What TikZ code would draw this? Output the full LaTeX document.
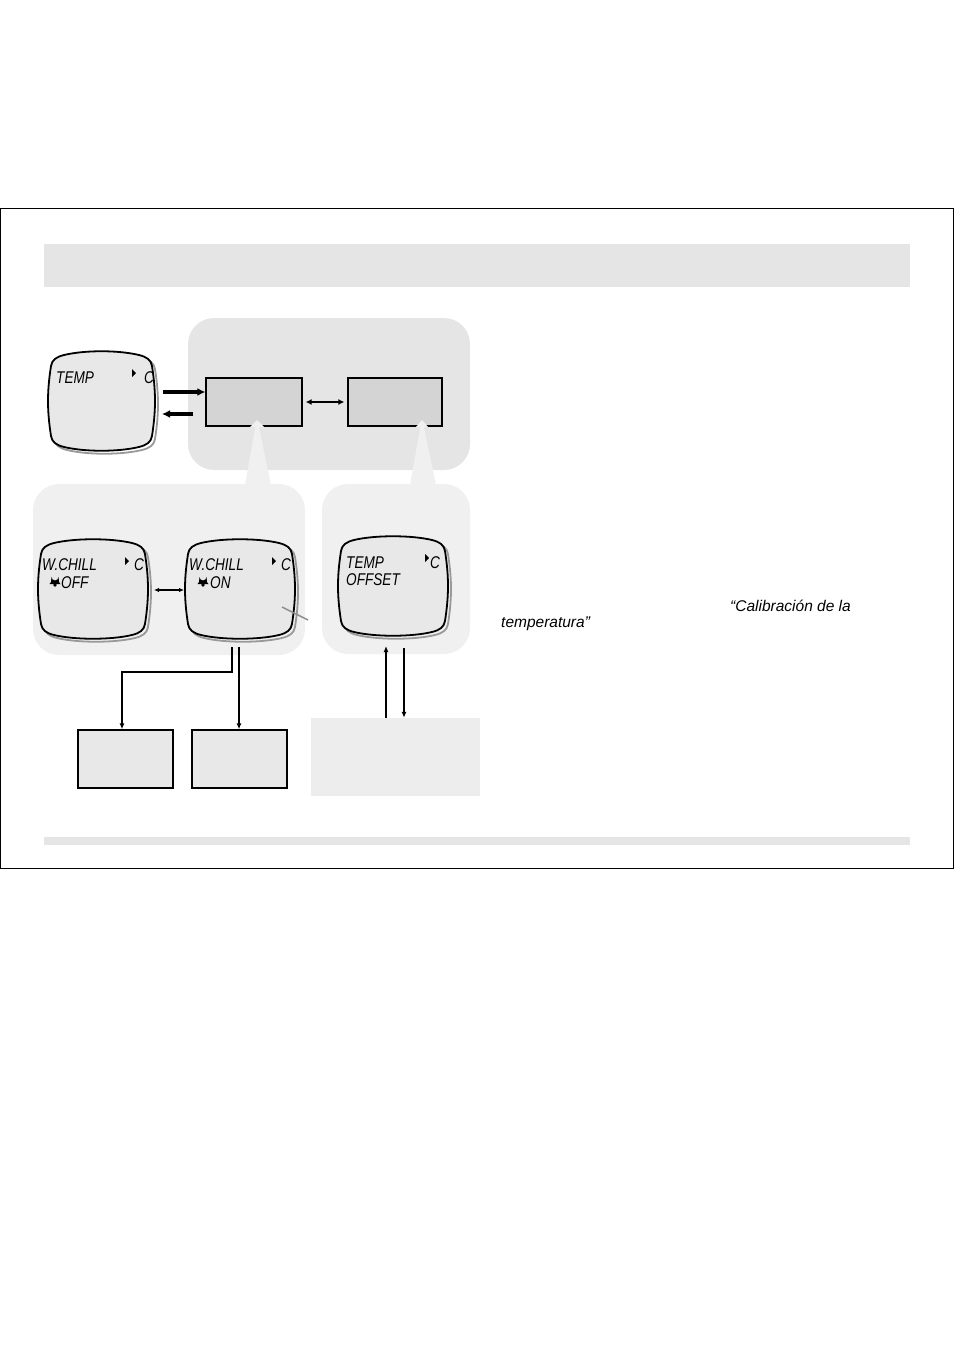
\documentclass[tikz,border=0pt]{standalone}
\usepackage{fontspec}
\setmainfont{Liberation Sans}
\newfontfamily\scrfont[FakeStretch=0.8]{Liberation Sans}
\usetikzlibrary{arrows.meta}
\begin{document}
\begin{tikzpicture}[x=1pt,y=-1pt,
  scr/.style={font=\scrfont\itshape\fontsize{17}{15}\selectfont,inner sep=0pt,anchor=base west},
  bubA/.style={fill=black!10},
  bubB/.style={fill=black!6},
  gbox/.style={draw=black,line width=1.3pt,fill=black!17},
  wbox/.style={draw=black,line width=1.3pt,fill=black!9},
  arr/.style={-{Latex[length=6pt,width=5pt]},line width=1.2pt},
  thick arr/.style={-{Latex[length=8pt,width=8pt]},line width=3.2pt},
  darr/.style={{Latex[length=6pt,width=6pt]}-{Latex[length=6pt,width=6pt]},line width=2pt},
  note/.style={font=\itshape\fontsize{15.5}{18}\selectfont,anchor=base west,inner sep=0pt}]
\useasboundingbox (0,0) rectangle (954,1351);
\newcommand\tvpath[4]{(#1+1,#2+14) .. controls (#1+2,#2+8) and (#1+6,#2+5) .. (#1+14,#2+3)
     .. controls (#1+35,#2-2) and (#3-35,#2-2) .. (#3-14,#2+3)
     .. controls (#3-6,#2+5) and (#3-2,#2+8) .. (#3-1,#2+14)
     .. controls (#3+3,#2+40) and (#3+3,#4-40) .. (#3-1,#4-14)
     .. controls (#3-2,#4-8) and (#3-6,#4-5) .. (#3-14,#4-3)
     .. controls (#3-35,#4+2) and (#1+35,#4+2) .. (#1+14,#4-3)
     .. controls (#1+6,#4-5) and (#1+2,#4-8) .. (#1+1,#4-14)
     .. controls (#1-3,#4-40) and (#1-3,#2+40) .. cycle}
\newcommand\tvscreen[5]{% name, x0,y0,x1,y1
  \begin{scope}[shift={(3,3)}]
  \draw[black!40,line width=1.8pt] \tvpath{#2}{#3}{#4}{#5};
  \end{scope}
  \draw[black,line width=1.8pt,fill=black!9] \tvpath{#2}{#3}{#4}{#5};
  \coordinate (#1) at ({(#2+#4)/2},{(#3+#5)/2});
  \fill (#4-21,#3+17) -- (#4-17,#3+21) -- (#4-21,#3+25) -- cycle;
}
\newcommand\bell[2]{\fill (#1-5.5,#2) -- (#1+5.5,#2) -- (#1+4,#2-2) -- (#1+3.5,#2-7) arc[start angle=0,end angle=180,radius=3.5] -- (#1-4,#2-2) -- cycle; \fill (#1,#2+1) circle (1.8);}
% frame
\draw[line width=1pt] (0,208) rectangle (953,868);
\fill[black!10] (44,244) rectangle (910,287);
\fill[black!10] (44,837) rectangle (910,845);
% bubbles
\fill[bubA] (188,318) [rounded corners=26pt] rectangle (470,470);
\fill[bubB] (33,484) [rounded corners=26pt] rectangle (305,655);
\fill[bubB] (322,484) [rounded corners=26pt] rectangle (470,654);
\fill[bubB] (257,418) -- (271,485) -- (245,485) -- cycle;
\fill[bubB] (422,418) -- (436,485) -- (410,485) -- cycle;
\node[gbox,minimum width=96pt,minimum height=48pt] (m1) at (254,402) {};
\node[gbox,minimum width=94pt,minimum height=48pt] (m2) at (395,402) {};
\fill[bubB] (257,420) -- (264,427) -- (250,427) -- cycle;
\fill[bubB] (422,420) -- (428,427) -- (416,427) -- cycle;
% screens
\tvscreen{t}{50}{352}{153}{450}
\node[scr] (tt) at (56,383) {TEMP};
\node[scr] (tc) at (144,383) {C};
\tvscreen{w1}{40}{540}{146}{638}
\node[scr] (w1a) at (42,570) {W.CHILL};
\node[scr] (w1c) at (134,570) {C};
\bell{55}{584}
\node[scr] (w1b) at (61,588) {OFF};
\tvscreen{w2}{187}{540}{293}{638}
\node[scr] (w2a) at (189,570) {W.CHILL};
\node[scr] (w2c) at (281,570) {C};
\bell{203}{584}
\node[scr] (w2b) at (210,588) {ON};
\tvscreen{to}{340}{537}{446}{635}
\node[scr] (toa) at (346,568) {TEMP};
\node[scr] (toc) at (430,568) {C};
\node[scr] (tob) at (346,585) {OFFSET};
% arrows top
\coordinate (a1) at (163,392); \coordinate (a2) at (193,414); \coordinate (a3) at (162,414);
\draw[thick arr] (a1) -- (m1.west|-a1);
\draw[thick arr] (a2) -- (a3);
\path (m1.east) ++(3,0) coordinate (d1) (m2.west) ++(-3,0) coordinate (d2);
\draw[darr] (d1) -- (d2);
\coordinate (e1) at (154,590); \coordinate (e2) at (184,590);
\draw[{Latex[length=5pt,width=4.5pt]}-{Latex[length=5pt,width=4.5pt]},line width=1.2pt] (e1) -- (e2);
\draw[black!45,line width=1.4pt] (282,607) -- (308,620);
% lower boxes
\node[wbox,minimum width=95pt,minimum height=58pt] (b1) at (125.5,759) {};
\node[wbox,minimum width=95pt,minimum height=58pt] (b2) at (239.5,759) {};
\node[fill=black!7,minimum width=169pt,minimum height=78pt,inner sep=0pt] (b3) at (395.5,757) {};
\coordinate (s1) at (232,647); \coordinate (s2) at (239,647);
\draw[arr] (s1) |- (122,672) -- (b1.north-|122,0);
\draw[arr] (s2) -- (b2.north-|s2);
\coordinate (u1) at (386,718); \coordinate (u2) at (404,648);
\draw[arr] (u1) -- (386,646);
\draw[arr] (u2) -- (b3.north-|u2);
% text
\node[note] (n1) at (730,611) {“Calibración de la};
\node[note] (n2) at (501,627) {temperatura”};
\end{tikzpicture}
\end{document}
